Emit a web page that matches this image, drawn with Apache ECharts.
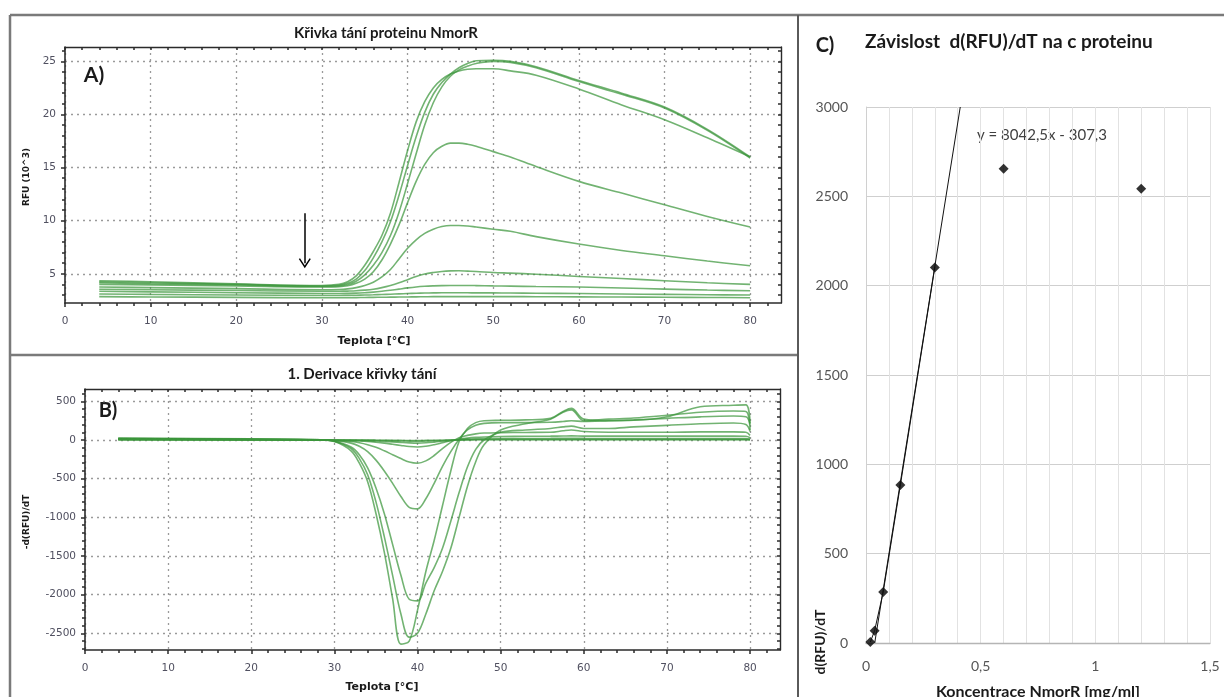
<!DOCTYPE html>
<html><head><meta charset="utf-8">
<script src="https://cdn.jsdelivr.net/npm/echarts@6/dist/echarts.min.js"></script>
<style>html,body{margin:0;padding:0;background:#fff}#c{width:1224px;height:697px}</style>
</head><body><div id="c"></div>
<script>
// ---------- Panel A: melting curves (RFU x 10^3) ----------
const tempA = [4,10,20,30,32,33,34,35,36,37,38,39,40,41,42,43,44,45,46,47,48,50,52,55,60,65,70,75,80];
const rfuA1 = [4.35,4.25,4.05,3.9,4.0,4.25,4.8,5.8,7.1,8.6,10.7,13.6,16.6,19.3,21.2,22.5,23.3,23.8,24.1,24.25,24.3,24.3,24.1,23.7,22.4,20.9,19.5,17.8,16.0];
const rfuA2 = [4.25,4.15,4.0,3.85,3.92,4.1,4.5,5.3,6.5,8.0,9.9,12.4,15.2,17.9,20.2,21.9,23.0,23.8,24.4,24.8,25.05,25.1,25.0,24.5,23.2,22.0,20.7,18.6,16.0];
const rfuA3 = [4.15,4.05,3.95,3.8,3.85,4.0,4.3,4.9,5.8,7.0,8.6,10.8,13.5,16.3,19.0,21.1,22.6,23.6,24.2,24.55,24.8,25.0,24.9,24.4,23.1,21.9,20.6,18.5,15.9];
const rfuA4 = [4.0,3.95,3.85,3.75,3.78,3.87,4.1,4.5,5.2,6.3,7.8,9.6,11.7,13.7,15.3,16.4,17.0,17.3,17.3,17.2,17.0,16.5,16.0,15.1,13.7,12.6,11.5,10.4,9.4];
const rfuA5 = [3.75,3.7,3.6,3.5,3.52,3.58,3.7,3.9,4.2,4.7,5.4,6.4,7.4,8.2,8.8,9.2,9.45,9.55,9.55,9.5,9.4,9.2,9.0,8.5,7.8,7.2,6.7,6.2,5.75];
const rfuA6 = [3.55,3.5,3.42,3.35,3.35,3.37,3.4,3.46,3.55,3.7,3.9,4.15,4.45,4.75,4.98,5.12,5.22,5.27,5.28,5.25,5.22,5.12,5.06,4.96,4.75,4.55,4.35,4.15,4.0];
const rfuA7 = [3.35,3.3,3.22,3.15,3.15,3.16,3.18,3.22,3.27,3.35,3.45,3.56,3.67,3.76,3.82,3.86,3.89,3.9,3.9,3.9,3.89,3.86,3.84,3.8,3.75,3.66,3.56,3.47,3.4];
const rfuA8 = [3.1,3.06,3.0,2.96,2.96,2.97,2.98,3.0,3.02,3.05,3.08,3.11,3.14,3.17,3.19,3.2,3.21,3.21,3.21,3.21,3.2,3.2,3.19,3.17,3.14,3.1,3.06,3.03,3.0];
const rfuA9 = [2.85,2.82,2.78,2.75,2.75,2.75,2.76,2.77,2.78,2.79,2.8,2.81,2.82,2.83,2.84,2.85,2.85,2.85,2.85,2.85,2.85,2.85,2.85,2.84,2.83,2.81,2.79,2.77,2.75];
const ticksAx = [0,10,20,30,40,50,60,70,80];
const ticksAy = [5,10,15,20,25];
const arrowFrom = [28, 10.7];
const arrowTo = [28, 6.0];

// ---------- Panel B: first derivative ----------
const tempB = [4,20,28,30,32,33,34,35,36,37,38,39,40,41,42,43,44,45,46,47,48,50,53,56,57.5,58.5,60,63,66,70,74,78,79.5,80];
const derivB1 = [25,15,5,-20,-140,-300,-540,-950,-1450,-2050,-2640,-2600,-2200,-1700,-1300,-850,-400,-20,150,225,250,255,260,280,370,410,270,250,255,300,430,450,455,220];
const derivB2 = [20,12,4,-15,-110,-240,-450,-800,-1250,-1750,-2250,-2550,-2500,-2250,-1950,-1700,-1400,-1000,-600,-280,-60,130,210,270,360,390,250,270,285,320,360,375,370,130];
const derivB3 = [18,10,3,-15,-90,-190,-360,-620,-950,-1350,-1750,-2060,-2080,-1850,-1650,-1400,-1050,-680,-350,-120,0,100,130,150,170,180,150,150,170,190,210,220,200,110];
const derivB4 = [12,6,2,-10,-40,-80,-150,-260,-400,-560,-730,-870,-890,-760,-560,-340,-150,10,130,190,215,225,225,230,240,250,240,250,260,280,300,310,300,200];
const derivB5 = [10,5,1,-5,-20,-35,-60,-95,-140,-190,-240,-285,-300,-270,-200,-110,-30,30,60,80,90,95,98,100,120,130,110,100,100,100,105,105,100,60];
const derivB6 = [8,4,1,-3,-8,-12,-18,-28,-40,-55,-70,-84,-90,-80,-60,-35,-10,10,25,35,40,45,48,50,52,54,50,50,50,50,50,50,48,30];
const derivB7 = [6,3,1,-2,-4,-6,-9,-13,-18,-24,-31,-37,-40,-36,-27,-16,-5,5,12,16,18,20,20,21,22,22,21,20,20,20,20,20,19,12];
const derivB8 = [5,2,1,-1,-2,-2,-3,-5,-7,-9,-12,-14,-15,-13,-10,-6,-2,2,5,6,7,8,8,8,8,8,8,8,8,8,8,8,8,5];
const derivB9 = [4,2,1,0,-1,-1,-1,-2,-3,-4,-5,-6,-6,-5,-4,-2,-1,1,2,3,3,3,3,3,3,3,3,3,3,3,3,3,3,2];
const ticksBx = [0,10,20,30,40,50,60,70,80];
const ticksBy = [500,0,-500,-1000,-1500,-2000,-2500];

// ---------- Panel C: d(RFU)/dT vs concentration ----------
const concC = [0.01875,0.0375,0.075,0.15,0.3,0.6,1.2];
const slopeC = [5,69,285,885,2102,2655,2543];
const trendX = [0.038,0.411];
const trendY = [0,3000];
const ticksCx = [0,0.5,1,1.5];

function pairs(xs, ys){ return xs.map((x,i)=>[x, ys[i]]); }
function range(a,b,s){ const r=[]; for(let k=0; a+k*s<=b+1e-9; k++) r.push(+(a+k*s).toFixed(6)); return r; }

const minorAx = range(0,82,2);
const minorAy = range(3,26,1);
const minorBx = range(0,82,2);
const minorBy = range(-2700,600,100);

const GREEN = 'rgba(60,150,60,0.72)';
const AX = '#2b2b2b';
const plain = v => String(v);
const LBL = {fontFamily:'DejaVu Sans', fontSize:10.5, color:'#505060', formatter:plain};
const DOT = {type:[2,4], color:'#9a9a9a', width:1.3};

function mainX(grid, max, ticks, margin){
  return {gridIndex:grid, type:'value', position:'bottom', min:0, max:max,
    axisLine:{show:true, onZero:false, lineStyle:{color:AX, width:1.6}},
    axisTick:{show:true, customValues:ticks, length:4, lineStyle:{color:AX, width:1.5}},
    axisLabel:Object.assign({show:true, customValues:ticks, margin:margin}, LBL),
    splitLine:{show:true, lineStyle:DOT}};
}
function minorX(grid, max, ticks, pos, inside){
  return {gridIndex:grid, type:'value', position:pos, min:0, max:max,
    axisLine:{show:pos==='top', onZero:false, lineStyle:{color:AX, width:1.4}},
    axisTick:{show:true, inside:inside, customValues:ticks, length:3, lineStyle:{color:AX, width:1.5}},
    axisLabel:{show:false}, splitLine:{show:false}};
}
function mainY(grid, min, max, ticks){
  return {gridIndex:grid, type:'value', position:'left', min:min, max:max,
    axisLine:{show:true, onZero:false, lineStyle:{color:AX, width:1.6}},
    axisTick:{show:true, customValues:ticks, length:4, lineStyle:{color:AX, width:1.5}},
    axisLabel:Object.assign({show:true, customValues:ticks, margin:9}, LBL),
    splitLine:{show:true, lineStyle:DOT}};
}
function minorY(grid, min, max, ticks, pos, inside){
  return {gridIndex:grid, type:'value', position:pos, min:min, max:max,
    axisLine:{show:pos==='right', onZero:false, lineStyle:{color:AX, width:1.4}},
    axisTick:{show:true, inside:inside, customValues:ticks, length:3, lineStyle:{color:AX, width:1.5}},
    axisLabel:{show:false}, splitLine:{show:false}};
}

const arrowPath = 'path://M6,0 L12,9 L10.8,9.8 L6,2.6 L1.2,9.8 L0,9 Z';

const seriesA = [rfuA1,rfuA2,rfuA3,rfuA4,rfuA5,rfuA6,rfuA7,rfuA8,rfuA9].map((arr,i)=>({
  type:'line', xAxisIndex:0, yAxisIndex:0, data:pairs(tempA, arr), smooth:0.35,
  showSymbol:false, lineStyle:{color:GREEN, width:1.6},
  markLine: i===0 ? {silent:true, symbol:['none', arrowPath], symbolSize:[12,10],
    lineStyle:{color:'#000', width:1.5, type:'solid'}, label:{show:false},
    data:[[{coord:arrowFrom},{coord:arrowTo}]]} : undefined
}));
const seriesB = [derivB1,derivB2,derivB3,derivB4,derivB5,derivB6,derivB7,derivB8,derivB9].map(arr=>({
  type:'line', xAxisIndex:3, yAxisIndex:3, data:pairs(tempB, arr), smooth:0.35,
  showSymbol:false, lineStyle:{color:GREEN, width:1.6}
}));
const seriesC = [
  {type:'line', xAxisIndex:6, yAxisIndex:6, data:pairs(concC.slice(0,5), slopeC.slice(0,5)), showSymbol:false, lineStyle:{color:'#111', width:1}},
  {type:'line', xAxisIndex:6, yAxisIndex:6, data:pairs(trendX, trendY), showSymbol:false, lineStyle:{color:'#111', width:1}},
  {type:'scatter', xAxisIndex:6, yAxisIndex:6, data:pairs(concC, slopeC), symbol:'diamond', symbolSize:10, itemStyle:{color:'#000'}}
];

function txt(x, y, text, font, opts){
  return Object.assign({type:'text', x:x, y:y, silent:true,
    style:{text:text, font:font, fill:'#1a1a1a', align:'center', verticalAlign:'middle'}}, opts||{});
}
const LAT = "'Lato','Open Sans',sans-serif";
const DJV = "'DejaVu Sans',sans-serif";

const option = {
  animation:false,
  backgroundColor:'#fff',
  grid:[
    {left:65, top:47, width:716, height:256},
    {left:85, top:389, width:695, height:261},
    {left:866, top:107, width:344, height:536}
  ],
  xAxis:[
    mainX(0, 83.6, ticksAx, 13), minorX(0, 83.6, minorAx, 'bottom', false), minorX(0, 83.6, minorAx, 'top', true),
    mainX(1, 83.6, ticksBx, 13), minorX(1, 83.6, minorBx, 'bottom', false), minorX(1, 83.6, minorBx, 'top', true),
    {gridIndex:2, type:'value', position:'bottom', min:0, max:1.5, interval:0.1,
      axisLine:{show:true, onZero:false, lineStyle:{color:'#b5b5b5', width:1.3}},
      axisTick:{show:false},
      axisLabel:{show:true, customValues:ticksCx, margin:16, fontFamily:LAT, fontSize:14, color:'#555',
        formatter:v=>String(v).replace('.',',')},
      splitLine:{show:true, lineStyle:{color:'#e2e2e2', width:1}}}
  ],
  yAxis:[
    mainY(0, 2.25, 26.35, ticksAy), minorY(0, 2.25, 26.35, minorAy, 'left', false), minorY(0, 2.25, 26.35, minorAy, 'right', true),
    mainY(1, -2716, 660, ticksBy), minorY(1, -2716, 660, minorBy, 'left', false), minorY(1, -2716, 660, minorBy, 'right', true),
    {gridIndex:2, type:'value', position:'left', min:0, max:3000, interval:500,
      axisLine:{show:true, lineStyle:{color:'#d0d0d0', width:1}},
      axisTick:{show:false},
      axisLabel:{show:true, margin:18, fontFamily:LAT, fontSize:14, color:'#555', formatter:plain},
      splitLine:{show:true, lineStyle:{color:'#cfcfcf', width:1}}}
  ],
  series:[].concat(seriesA, seriesB, seriesC),
  graphic:[
    // frame lines
    {type:'line', silent:true, shape:{x1:10,y1:15,x2:1224,y2:15}, style:{stroke:'#7a7a7a', lineWidth:2.5}},
    {type:'line', silent:true, shape:{x1:10,y1:15,x2:10,y2:697}, style:{stroke:'#7a7a7a', lineWidth:2.5}},
    {type:'line', silent:true, shape:{x1:10,y1:355,x2:798,y2:355}, style:{stroke:'#7a7a7a', lineWidth:2.5}},
    {type:'line', silent:true, shape:{x1:798,y1:15,x2:798,y2:697}, style:{stroke:'#5a5a5a', lineWidth:2}},
    // panel A texts
    txt(386, 33, 'Křivka tání proteinu NmorR', 'bold 15px '+LAT),
    txt(94, 75, 'A)', 'bold 21px '+LAT),
    txt(27, 177, 'RFU (10^3)', 'bold 9px '+DJV, {rotation:Math.PI/2}),
    txt(374, 341, 'Teplota [°C]', 'bold 11px '+DJV),
    // panel B texts
    txt(362, 374, '1. Derivace křivky tání', 'bold 15px '+LAT),
    txt(108, 411, 'B)', 'bold 20px '+LAT),
    txt(27, 522, '-d(RFU)/dT', 'bold 9px '+DJV, {rotation:Math.PI/2}),
    txt(382, 687, 'Teplota [°C]', 'bold 11px '+DJV),
    // panel C texts
    txt(825, 46, 'C)', 'bold 20px '+LAT),
    {type:'text', x:865, y:42, silent:true, style:{text:'Závislost  d(RFU)/dT na c proteinu', font:'bold 19px '+LAT, fill:'#1a1a1a', align:'left', verticalAlign:'middle'}},
    {type:'text', x:977, y:135, silent:true, style:{text:'y = 8042,5x - 307,3', font:'15px '+LAT, fill:'#404040', align:'left', verticalAlign:'middle'}},
    txt(1038, 692, 'Koncentrace NmorR [mg/ml]', 'bold 16px '+LAT),
    txt(820, 642, 'd(RFU)/dT', 'bold 14px '+LAT, {rotation:Math.PI/2})
  ]
};
const chart = echarts.init(document.getElementById('c'), null, {renderer:'canvas'});
chart.setOption(option);
</script>
</body></html>
